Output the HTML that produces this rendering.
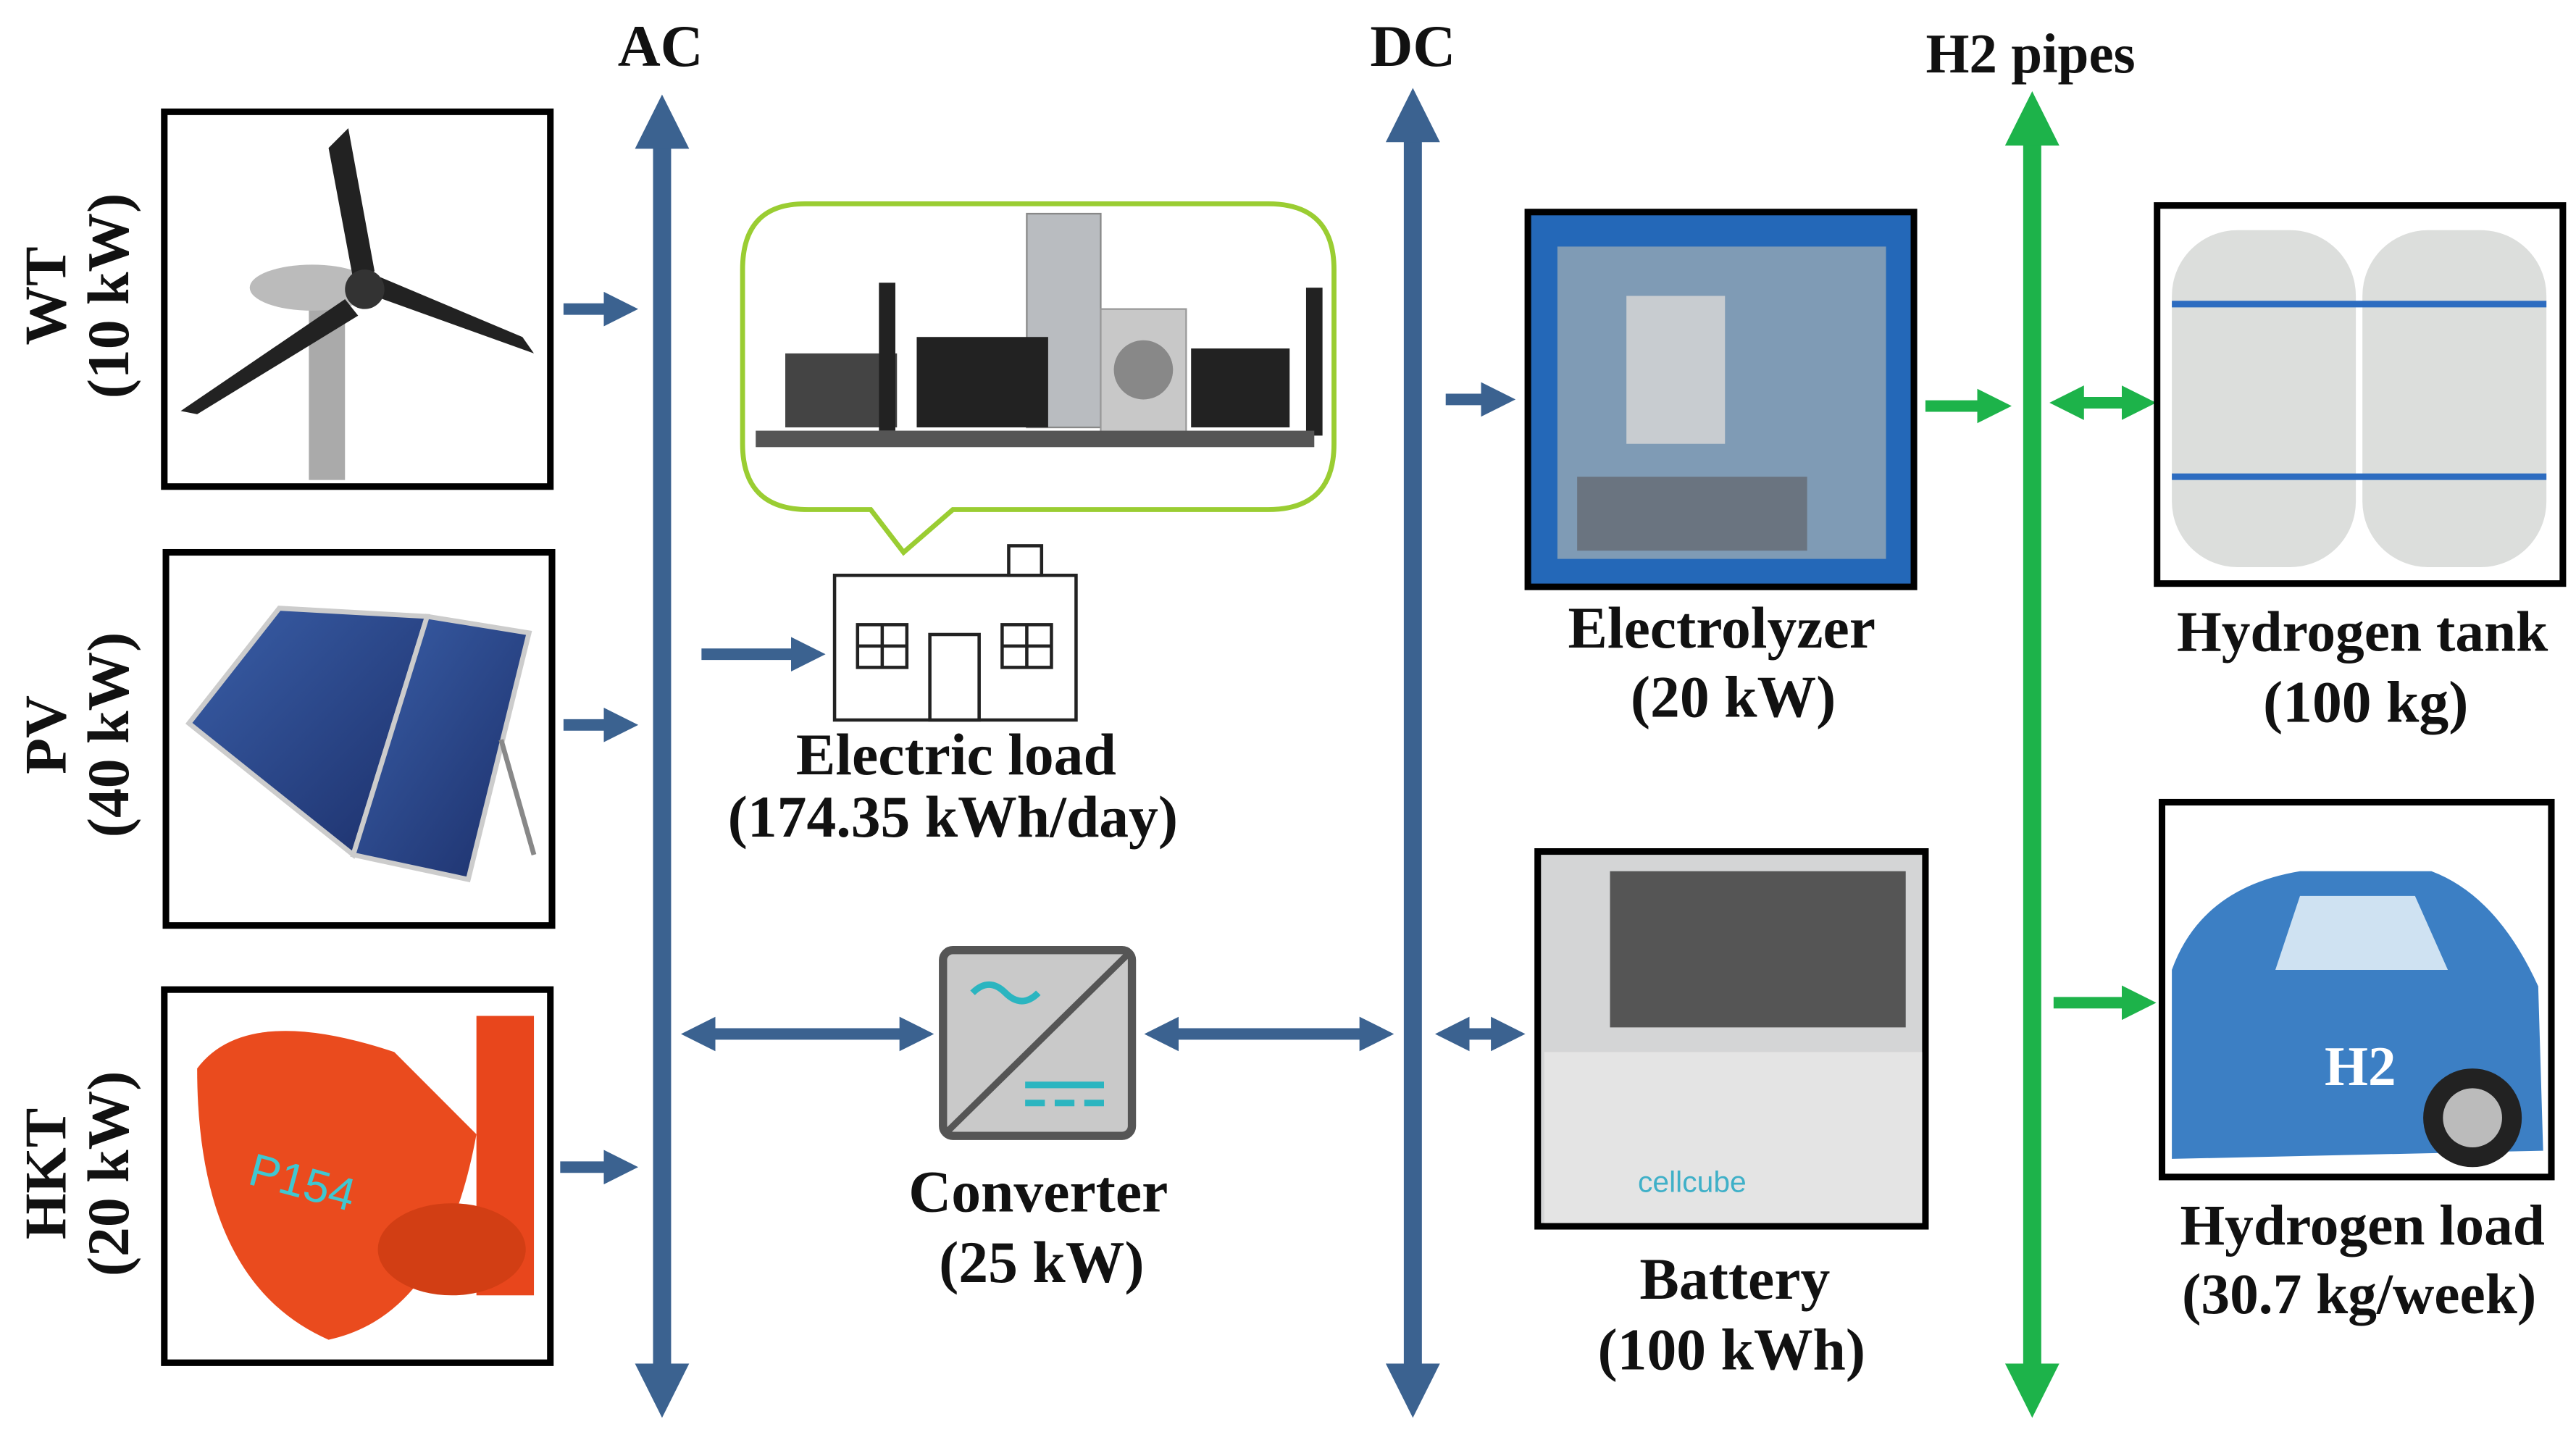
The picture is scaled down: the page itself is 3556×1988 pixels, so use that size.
<!DOCTYPE html>
<html><head><meta charset="utf-8"><style>
html,body{margin:0;padding:0;background:#fff;}
svg{display:block;}
text{font-family:"Liberation Serif",serif;font-weight:bold;fill:#111;}
</style></head><body>
<svg width="3556" height="1988" viewBox="0 0 1568 876" preserveAspectRatio="none" xmlns="http://www.w3.org/2000/svg">
<defs>
<marker id="ab" viewBox="0 0 10 10" refX="5" refY="5" markerWidth="3" markerHeight="3" orient="auto-start-reverse"><path d="M0,0 L10,5 L0,10 z" fill="#3b6290"/></marker>
<marker id="ag" viewBox="0 0 10 10" refX="5" refY="5" markerWidth="3" markerHeight="3" orient="auto-start-reverse"><path d="M0,0 L10,5 L0,10 z" fill="#1db34a"/></marker>
<linearGradient id="pv" x1="0" y1="0" x2="1" y2="1"><stop offset="0" stop-color="#3a5fa8"/><stop offset="1" stop-color="#1c2f6a"/></linearGradient>
</defs>

<text x="402" y="40" font-size="36" text-anchor="middle">AC</text>
<text x="860" y="40" font-size="36" text-anchor="middle">DC</text>
<text x="1236" y="44" font-size="34" text-anchor="middle">H2 pipes</text>

<line x1="403" y1="74" x2="403" y2="846" stroke="#3b6290" stroke-width="11" marker-start="url(#ab)" marker-end="url(#ab)"/>
<line x1="860" y1="70" x2="860" y2="846" stroke="#3b6290" stroke-width="11" marker-start="url(#ab)" marker-end="url(#ab)"/>
<line x1="1237" y1="72" x2="1237" y2="846" stroke="#1db34a" stroke-width="11" marker-start="url(#ag)" marker-end="url(#ag)"/>

<rect x="100" y="68" width="235" height="228" fill="#fff" stroke="#000" stroke-width="4"/>
<rect x="101" y="336" width="235" height="227" fill="#fff" stroke="#000" stroke-width="4"/>
<rect x="100" y="602" width="235" height="227" fill="#fff" stroke="#000" stroke-width="4"/>
<rect x="188" y="180" width="22" height="112" fill="#aaa"/>
<ellipse cx="190" cy="175" rx="38" ry="14" fill="#bbb"/>
<path d="M215,170 L200,90 L212,78 L228,165 z" fill="#222"/>
<path d="M222,178 L325,215 L318,205 L230,168 z" fill="#222"/>
<path d="M210,182 L110,250 L120,252 L218,192 z" fill="#222"/>
<circle cx="222" cy="176" r="12" fill="#333"/>
<polygon points="115,440 170,370 260,375 215,520" fill="url(#pv)" stroke="#ccc" stroke-width="3"/>
<polygon points="215,520 260,375 322,385 285,535" fill="url(#pv)" stroke="#ccc" stroke-width="3"/>
<line x1="305" y1="450" x2="325" y2="520" stroke="#888" stroke-width="3"/>
<rect x="290" y="618" width="35" height="170" fill="#e8461c"/>
<path d="M120,650 Q150,610 240,640 L290,690 Q270,800 200,815 Q120,780 120,650 z" fill="#ea4b1e"/>
<ellipse cx="275" cy="760" rx="45" ry="28" fill="#d23e14"/>
<text x="150" y="720" font-size="28" style="fill:#3fc7d1;font-family:'Liberation Sans',sans-serif;font-weight:normal" transform="rotate(15 150 720)">P154</text>

<g font-size="36">
<text transform="translate(40,180) rotate(-90)" text-anchor="middle">WT</text>
<text transform="translate(78,180) rotate(-90)" text-anchor="middle">(10 kW)</text>
<text transform="translate(40,447) rotate(-90)" text-anchor="middle">PV</text>
<text transform="translate(78,447) rotate(-90)" text-anchor="middle">(40 kW)</text>
<text transform="translate(40,714) rotate(-90)" text-anchor="middle">HKT</text>
<text transform="translate(78,714) rotate(-90)" text-anchor="middle">(20 kW)</text>
</g>

<g stroke="#3b6290" stroke-width="7">
<line x1="343" y1="188" x2="378" y2="188" marker-end="url(#ab)"/>
<line x1="343" y1="441" x2="378" y2="441" marker-end="url(#ab)"/>
<line x1="341" y1="710" x2="378" y2="710" marker-end="url(#ab)"/>
<line x1="427" y1="398" x2="492" y2="398" marker-end="url(#ab)"/>
<line x1="880" y1="243" x2="912" y2="243" marker-end="url(#ab)"/>
<line x1="425" y1="629" x2="558" y2="629" marker-start="url(#ab)" marker-end="url(#ab)"/>
<line x1="707" y1="629" x2="838" y2="629" marker-start="url(#ab)" marker-end="url(#ab)"/>
<line x1="884" y1="629" x2="918" y2="629" marker-start="url(#ab)" marker-end="url(#ab)"/>
</g>

<path d="M490,124 L772,124 Q812,124 812,164 L812,270 Q812,310 772,310 L580,310 L550,336 L530,310 L492,310 Q452,310 452,270 L452,164 Q452,124 490,124 z" fill="#fff" stroke="#9acd32" stroke-width="3"/>
<rect x="625" y="130" width="45" height="130" fill="#b9bcc0" stroke="#888"/>
<rect x="558" y="205" width="80" height="55" fill="#222"/>
<rect x="478" y="215" width="68" height="45" fill="#444"/>
<rect x="670" y="188" width="52" height="75" fill="#c8c8c8" stroke="#999"/>
<circle cx="696" cy="225" r="18" fill="#888"/>
<rect x="725" y="212" width="60" height="48" fill="#222"/>
<rect x="535" y="172" width="10" height="90" fill="#222"/>
<rect x="795" y="175" width="10" height="90" fill="#222"/>
<rect x="460" y="262" width="340" height="10" fill="#555"/>

<g stroke="#222" stroke-width="2" fill="#fff">
<rect x="508" y="350" width="147" height="88"/>
<rect x="614" y="332" width="20" height="18"/>
<rect x="522" y="380" width="30" height="26"/>
<rect x="610" y="380" width="30" height="26"/>
<rect x="566" y="386" width="30" height="52"/>
<line x1="537" y1="380" x2="537" y2="406"/><line x1="522" y1="393" x2="552" y2="393"/>
<line x1="625" y1="380" x2="625" y2="406"/><line x1="610" y1="393" x2="640" y2="393"/>
</g>
<text x="582" y="471" font-size="36" text-anchor="middle">Electric load</text>
<text x="580" y="509" font-size="36" text-anchor="middle">(174.35 kWh/day)</text>

<rect x="574" y="578" width="115" height="113" rx="6" fill="#c9c9c9" stroke="#555" stroke-width="5"/>
<line x1="576" y1="689" x2="687" y2="580" stroke="#555" stroke-width="4"/>
<path d="M592,604 q10,-10 20,0 t20,0" fill="none" stroke="#2bb5c0" stroke-width="4"/>
<line x1="624" y1="660" x2="672" y2="660" stroke="#2bb5c0" stroke-width="4"/>
<line x1="624" y1="671" x2="672" y2="671" stroke="#2bb5c0" stroke-width="4" stroke-dasharray="12 6"/>
<text x="632" y="737" font-size="36" text-anchor="middle">Converter</text>
<text x="634" y="780" font-size="36" text-anchor="middle">(25 kW)</text>

<rect x="930" y="129" width="235" height="228" fill="#2468b8" stroke="#000" stroke-width="4"/>
<rect x="948" y="150" width="200" height="190" fill="#7f9bb5"/>
<rect x="990" y="180" width="60" height="90" fill="#c8ccd0"/>
<rect x="960" y="290" width="140" height="45" fill="#6a7480"/>
<text x="1048" y="394" font-size="36" text-anchor="middle">Electrolyzer</text>
<text x="1055" y="436" font-size="36" text-anchor="middle">(20 kW)</text>

<rect x="936" y="518" width="236" height="228" fill="#d4d5d6" stroke="#000" stroke-width="4"/>
<rect x="980" y="530" width="180" height="95" fill="#555"/>
<rect x="940" y="640" width="230" height="104" fill="#e4e4e4"/>
<text x="1030" y="725" font-size="18" text-anchor="middle" style="fill:#3fb0c8;font-family:'Liberation Sans',sans-serif;font-weight:normal">cellcube</text>
<text x="1056" y="790" font-size="36" text-anchor="middle">Battery</text>
<text x="1054" y="833" font-size="36" text-anchor="middle">(100 kWh)</text>

<g stroke="#1db34a" stroke-width="7">
<line x1="1172" y1="247" x2="1214" y2="247" marker-end="url(#ag)"/>
<line x1="1258" y1="245" x2="1302" y2="245" marker-start="url(#ag)" marker-end="url(#ag)"/>
<line x1="1250" y1="610" x2="1302" y2="610" marker-end="url(#ag)"/>
</g>

<rect x="1313" y="125" width="247" height="230" fill="#fff" stroke="#000" stroke-width="4"/>
<rect x="1322" y="140" width="112" height="205" rx="40" fill="#dcdedc"/>
<rect x="1438" y="140" width="112" height="205" rx="40" fill="#dcdedc"/>
<line x1="1322" y1="185" x2="1550" y2="185" stroke="#2d6cc0" stroke-width="4"/>
<line x1="1322" y1="290" x2="1550" y2="290" stroke="#2d6cc0" stroke-width="4"/>
<text x="1438" y="396" font-size="35" text-anchor="middle">Hydrogen tank</text>
<text x="1440" y="439" font-size="36" text-anchor="middle">(100 kg)</text>

<rect x="1316" y="488" width="237" height="228" fill="#fff" stroke="#000" stroke-width="4"/>
<path d="M1322,590 Q1340,540 1400,530 L1480,530 Q1520,545 1545,600 L1548,700 L1322,705 z" fill="#3c7fc4"/>
<path d="M1400,545 L1470,545 L1490,590 L1385,590 z" fill="#cfe2f2"/>
<circle cx="1505" cy="680" r="30" fill="#222"/><circle cx="1505" cy="680" r="18" fill="#bbb"/>
<text x="1415" y="660" font-size="34" style="fill:#fff">H2</text>
<text x="1438" y="757" font-size="35" text-anchor="middle">Hydrogen load</text>
<text x="1436" y="799" font-size="35" text-anchor="middle">(30.7 kg/week)</text>
</svg>
</body></html>
